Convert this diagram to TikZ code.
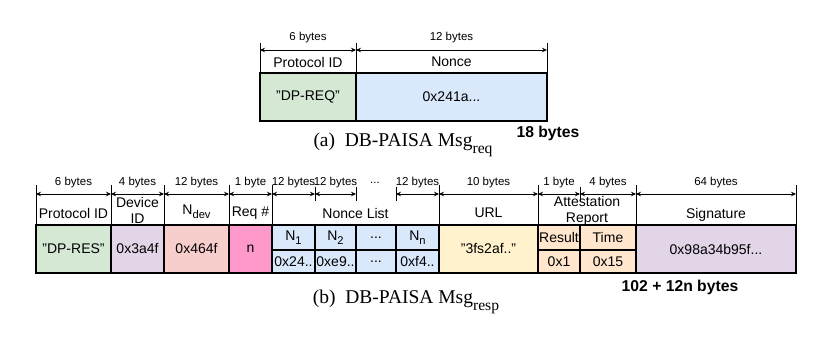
\documentclass[tikz,border=0pt]{standalone}
\usepackage{fontspec}
\setmainfont{Liberation Sans}
\newfontfamily\capfont{Liberation Serif}
\usetikzlibrary{arrows.meta}
\definecolor{cgreen}{HTML}{D5E8D4}
\definecolor{cblue}{HTML}{DAE8FC}
\definecolor{cpurple}{HTML}{E1D5E7}
\definecolor{csalmon}{HTML}{F8CECC}
\definecolor{cpink}{HTML}{FF99CC}
\definecolor{cyellow}{HTML}{FFF2CC}
\definecolor{corange}{HTML}{FFE6CC}
\newcommand\mysub[1]{\raisebox{-0.32em}{\scalebox{0.8}{#1}}}
\begin{document}
\begin{tikzpicture}[x=1pt,y=-1pt,
  cell/.style={draw=black, line width=1.5pt, inner sep=0pt, font=\fontsize{14}{16}\selectfont},
  lbl/.style={inner sep=0pt, font=\fontsize{11.5}{13}\selectfont},
  hdr/.style={inner sep=0pt, align=center, font=\fontsize{14}{16}\selectfont},
  tick/.style={line width=0.6pt},
  dim/.style={{Stealth[length=5pt,width=4.5pt]}-{Stealth[length=5pt,width=4.5pt]}, line width=0.7pt},
  capt/.style={inner sep=0pt, anchor=base, font=\capfont\fontsize{19.5}{22}\selectfont},
  total/.style={inner sep=0pt, font=\bfseries\fontsize{15.7}{18}\selectfont}]
\useasboundingbox[fill=white] (0,0) rectangle (831,339);

% ---------------- (a) request ----------------
\node[cell, fill=cgreen, minimum width=96pt, minimum height=48pt] (apid) at (308,97) {"DP-REQ"};
\node[cell, fill=cblue, minimum width=191pt, minimum height=48pt] (anon) at (451.5,97) {0x241a...};
\foreach \n/\x in {a0/260,a1/356,a2/547}{
  \coordinate (\n) at (\x,50);
  \draw[tick] (\x,43) -- (\x,73);
}
\draw[dim] (a0) -- (a1);
\draw[dim] (a1) -- (a2);
\node[lbl] (al1) at (308,38) {6 bytes};
\node[lbl] (al2) at (451.5,38) {12 bytes};
\node[hdr] (ah1) at (308,62) {Protocol ID};
\node[hdr] (ah2) at (451.5,62) {Nonce};
\node[capt] (capa) at (403,147) {(a)\enspace DB-PAISA Msg\mysub{req}};
\node[total] (tota) at (548,133) {18 bytes};

% ---------------- (b) response ----------------
\node[cell, fill=cgreen, minimum width=75pt, minimum height=48pt] (bpid) at (73.5,249) {"DP-RES"};
\node[cell, fill=cpurple, minimum width=53pt, minimum height=48pt] (bdev) at (137.5,249) {0x3a4f};
\node[cell, fill=csalmon, minimum width=65pt, minimum height=48pt] (bndev) at (196.5,249) {0x464f};
\node[cell, fill=cpink, minimum width=43pt, minimum height=48pt] (breq) at (250.5,249) {n};
% nonce list
\node[cell, fill=cblue, minimum width=43pt, minimum height=25pt] (n1a) at (293.5,237.5) {N\mysub{1}};
\node[cell, fill=cblue, minimum width=43pt, minimum height=23pt] (n1b) at (293.5,261.5) {0x24..};
\node[cell, fill=cblue, minimum width=41pt, minimum height=25pt] (n2a) at (335.5,237.5) {N\mysub{2}};
\node[cell, fill=cblue, minimum width=41pt, minimum height=23pt] (n2b) at (335.5,261.5) {0xe9..};
\node[cell, fill=cblue, minimum width=40pt, minimum height=25pt] (n3a) at (376,237.5) {\raisebox{-2pt}{...}};
\node[cell, fill=cblue, minimum width=40pt, minimum height=23pt] (n3b) at (376,261.5) {...};
\node[cell, fill=cblue, minimum width=43pt, minimum height=25pt] (n4a) at (417.5,237.5) {N\mysub{n}};
\node[cell, fill=cblue, minimum width=43pt, minimum height=23pt] (n4b) at (417.5,261.5) {0xf4..};
\node[cell, fill=cyellow, minimum width=99pt, minimum height=48pt] (burl) at (488.5,249) {"3fs2af.."};
\node[cell, fill=corange, minimum width=42pt, minimum height=25pt] (resa) at (559,237.5) {Result};
\node[cell, fill=corange, minimum width=42pt, minimum height=23pt] (resb) at (559,261.5) {0x1};
\node[cell, fill=corange, minimum width=56pt, minimum height=25pt] (tima) at (608,237.5) {Time};
\node[cell, fill=corange, minimum width=56pt, minimum height=23pt] (timb) at (608,261.5) {0x15};
\node[cell, fill=cpurple, minimum width=160pt, minimum height=48pt] (bsig) at (716,249) {0x98a34b95f...};

% dimension ticks
\foreach \n/\x in {b0/36,b1/111,b2/164,b3/229,b4/272,b8/439,b9/538,b11/636,b12/796}{
  \coordinate (\n) at (\x,194);
  \draw[tick] (\x,185) -- (\x,225);
}
\foreach \n/\x in {b5/315,b6/356,b7/396,b10/580}{
  \coordinate (\n) at (\x,194);
  \draw[tick] (\x,187) -- (\x,201);
}
\draw[dim] (b0) -- (b1);
\draw[dim] (b1) -- (b2);
\draw[dim] (b2) -- (b3);
\draw[dim] (b3) -- (b4);
\draw[dim] (b4) -- (b5);
\draw[dim] (b5) -- (b6);
\draw[dim] (b7) -- (b8);
\draw[dim] (b8) -- (b9);
\draw[dim] (b9) -- (b10);
\draw[dim] (b10) -- (b11);
\draw[dim] (b11) -- (b12);

% size labels
\node[lbl] (bl0) at (73.5,183) {6 bytes};
\node[lbl] (bl1) at (137.5,183) {4 bytes};
\node[lbl] (bl2) at (196.5,183) {12 bytes};
\node[lbl] (bl3) at (250.5,183) {1 byte};
\node[lbl] (bl4) at (293.5,183) {12 bytes};
\node[lbl] (bl5) at (335.5,183) {12 bytes};
\node[lbl] (bl6) at (375,183) {...};
\node[lbl] (bl7) at (417.5,183) {12 bytes};
\node[lbl] (bl8) at (488.5,183) {10 bytes};
\node[lbl] (bl9) at (559,183) {1 byte};
\node[lbl] (bl10) at (608,183) {4 bytes};
\node[lbl] (bl11) at (716,183) {64 bytes};

% field names
\node[hdr] (bh0) at (73.5,213) {Protocol ID};
\node[hdr] (bh1) at (137.5,210.5) {Device\\ID};
\node[hdr] (bh2) at (196.5,212) {N\mysub{dev}};
\node[hdr] (bh3) at (250.5,213) {Req \#};
\node[hdr] (bh4) at (355.5,213) {Nonce List};
\node[hdr] (bh5) at (488.5,213) {URL};
\node[hdr] (bh6) at (587,210.5) {Attestation\\Report};
\node[hdr] (bh7) at (716,215) {Signature};

\node[capt] (captb) at (406,304) {(b)\enspace DB-PAISA Msg\mysub{resp}};
\node[total] (totb) at (680,287) {102 + 12n bytes};
\end{tikzpicture}
\end{document}
